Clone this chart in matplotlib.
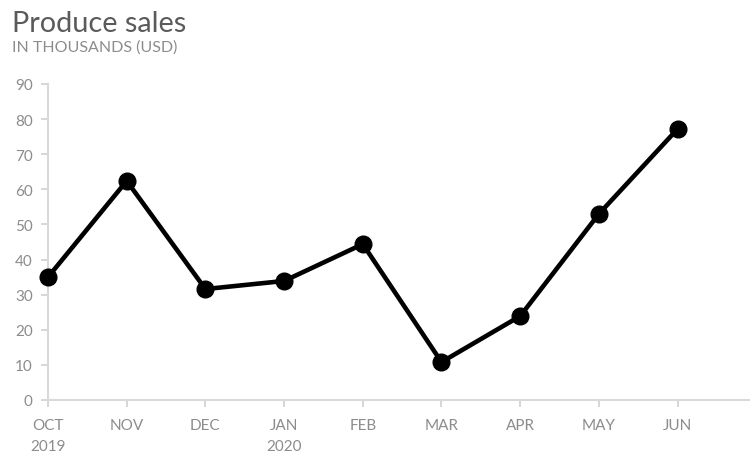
import matplotlib
matplotlib.use("Agg")
import matplotlib.pyplot as plt

months = ["OCT\n2019", "NOV", "DEC", "JAN\n2020", "FEB", "MAR", "APR", "MAY", "JUN"]
sales = [35.0, 62.4, 31.6, 33.9, 44.4, 10.8, 23.9, 53.0, 77.2]
yticks = [0, 10, 20, 30, 40, 50, 60, 70, 80, 90]

plt.rcParams['font.family'] = ['Lato', 'DejaVu Sans']

fig = plt.figure(figsize=(7.5, 4.56), dpi=100)
ax = fig.add_axes([48/750, 55/456, 1 - 48/750, 316/456])

x = list(range(len(months)))
ax.plot(x, sales, color='black', lw=3.3, marker='o', markersize=12, zorder=3, clip_on=False)

ax.set_xlim(0, 8.92)
ax.set_ylim(0, 90)
ax.set_xticks(x)
ax.set_xticklabels(months, linespacing=1.6)
ax.set_yticks(yticks)

for s in ['top', 'right']:
    ax.spines[s].set_visible(False)
for s in ['left', 'bottom']:
    ax.spines[s].set_color('#d9d9d9')
    ax.spines[s].set_linewidth(1.5)

ax.tick_params(axis='both', colors='#d0d0d0', labelcolor='#8c8c8c', labelsize=11, length=5, width=1.2)
ax.tick_params(axis='x', pad=8)
ax.tick_params(axis='y', pad=6)

fig.text(12/750, 1 - 32/456, "Produce sales", fontsize=20.8, color='#5a5a5a', ha='left', va='baseline')
fig.text(12/750, 1 - 52/456, "IN THOUSANDS (USD)", fontsize=11.5, color='#8c8c8c', ha='left', va='baseline')

fig.savefig("out.png", dpi=100)
